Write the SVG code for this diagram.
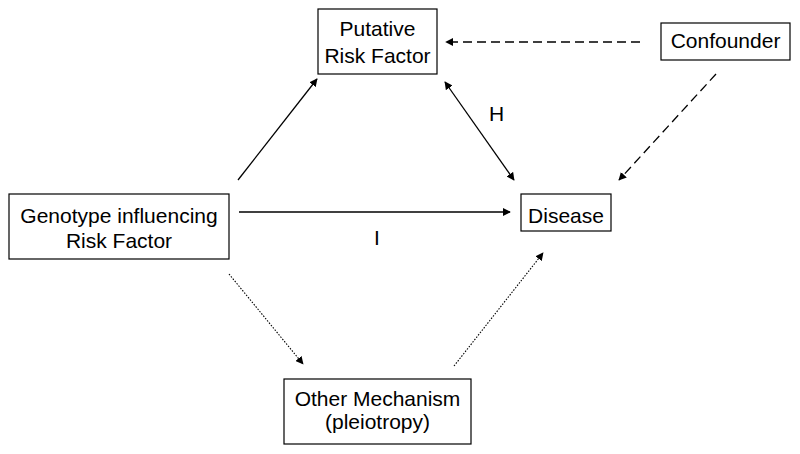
<svg xmlns="http://www.w3.org/2000/svg" width="800" height="454" viewBox="0 0 800 454">
<style>
.box{fill:#fff;stroke:#000;stroke-width:1.2}
.t{font-family:"Liberation Sans",Arial,sans-serif;font-size:21px;fill:#000;text-anchor:middle}
.c{stroke:#000;stroke-width:1.3;fill:none}
.dash{stroke-dasharray:9,5}
.dot{stroke-dasharray:1.5,1.5;stroke-width:1.1}
</style>
<defs>
<marker id="ah" viewBox="0 0 10 10" refX="9" refY="5" markerWidth="8" markerHeight="8" markerUnits="userSpaceOnUse" orient="auto-start-reverse">
<path d="M0,0 L10,5 L0,10 z" fill="#000"/>
</marker>
</defs>
<rect width="800" height="454" fill="#fff"/>
<g id="connectors">
<line class="c" x1="238" y1="180" x2="317" y2="79" marker-end="url(#ah)"/>
<line class="c" x1="445" y1="82" x2="514" y2="180" marker-start="url(#ah)" marker-end="url(#ah)"/>
<line class="c dash" x1="640" y1="42" x2="446" y2="42" marker-end="url(#ah)"/>
<line class="c dash" x1="716" y1="74" x2="619" y2="180" marker-end="url(#ah)"/>
<line class="c" x1="239" y1="212" x2="510" y2="212" marker-end="url(#ah)"/>
<line class="c dot" x1="229" y1="274" x2="303" y2="364" marker-end="url(#ah)"/>
<line class="c dot" x1="454" y1="366" x2="543" y2="253" marker-end="url(#ah)"/>
<text class="t" x="496.5" y="121">H</text>
<text class="t" x="377" y="245">I</text>
</g>
<g id="putative">
<rect class="box" x="318" y="9" width="119" height="65"/>
<text class="t" x="377.5" y="36">Putative</text>
<text class="t" x="377.5" y="63">Risk Factor</text>
</g>
<g id="confounder">
<rect class="box" x="661" y="23" width="129" height="37"/>
<text class="t" x="725.5" y="48">Confounder</text>
</g>
<g id="genotype">
<rect class="box" x="9" y="194" width="220" height="65"/>
<text class="t" x="119" y="223">Genotype influencing</text>
<text class="t" x="119" y="248">Risk Factor</text>
</g>
<g id="disease">
<rect class="box" x="521" y="194" width="90" height="37"/>
<text class="t" x="566" y="223">Disease</text>
</g>
<g id="other">
<rect class="box" x="284" y="379" width="187" height="65"/>
<text class="t" x="377.5" y="406">Other Mechanism</text>
<text class="t" x="377.5" y="429">(pleiotropy)</text>
</g>
</svg>
